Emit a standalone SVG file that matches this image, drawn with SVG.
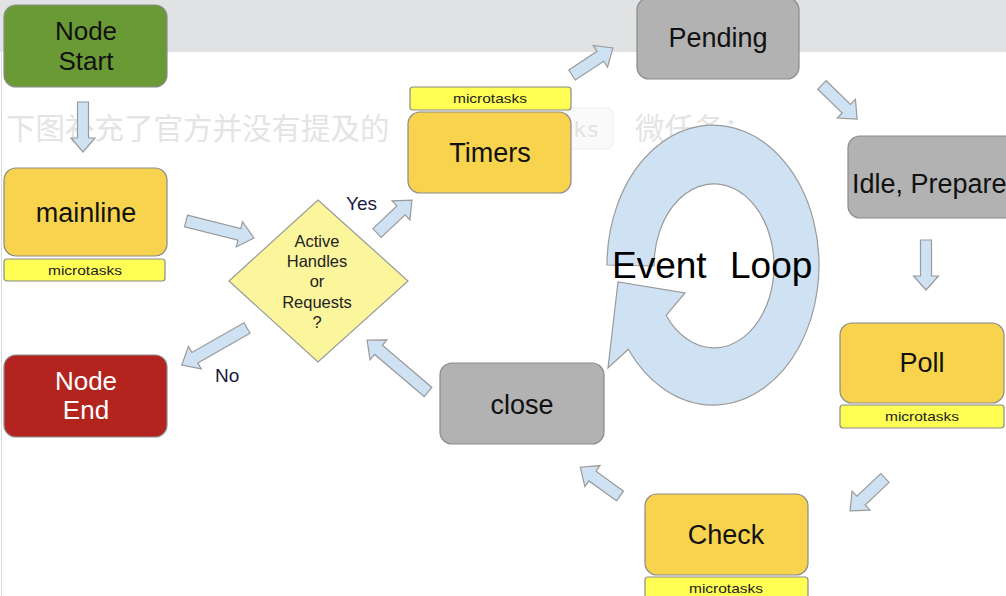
<svg xmlns="http://www.w3.org/2000/svg" width="1006" height="596" viewBox="0 0 1006 596">
<style>
.bg-text{font-family:"Noto Sans CJK SC","Liberation Sans",sans-serif;font-size:29.5px;fill:#e4e4e4}
.lbl{font-family:"Liberation Sans",Arial,sans-serif;font-size:27px;fill:#111;text-anchor:middle}
.nd{font-size:26px}
.mt{font-family:"Liberation Sans",Arial,sans-serif;font-size:13px;fill:#222;text-anchor:middle}
.dt{font-family:"Liberation Sans",Arial,sans-serif;font-size:16.5px;fill:#222;text-anchor:middle}
.yn{font-family:"Liberation Sans",Arial,sans-serif;font-size:19px;fill:#1a1a40}
.box{stroke:#8a8a8a;stroke-width:1.2}
.green{fill:#6a9a36}
.yellow{fill:#f7d34e}
.gray{fill:#b2b2b2}
.red{fill:#b3241e}
.micro{fill:#fefe55;stroke:#8a8a8a;stroke-width:1.2}
.arr{fill:#cfe2f3;stroke:#9a9a9a;stroke-width:1.2;stroke-linejoin:miter}
</style>
<!-- page background -->
<rect x="0" y="0" width="1006" height="596" fill="#ffffff"/>
<rect x="0" y="0" width="1006" height="52" fill="#e1e2e4"/>
<line x1="1.5" y1="52" x2="1.5" y2="596" stroke="#dcdcdc" stroke-width="1"/>
<text class="bg-text" x="6" y="139">下图补充了官方并没有提及的</text>
<rect x="420" y="108" width="193" height="41" rx="6" fill="#fafafa" stroke="#eeeeee"/>
<text x="573" y="137" font-family="'DejaVu Sans Mono','Liberation Mono',monospace" font-size="22" fill="#e2e2e2">ks</text>
<text class="bg-text" x="635" y="139">微任务：</text>

<!-- Event Loop ring -->
<g id="event-loop">
<path class="arr" d="M607,265 A106,140 0 1 1 628.3,349.3 L608,368 L618,282 L685,293 L666.1,315.3 A60,82 0 1 0 654,266 Z"/>
<text font-family="'Liberation Sans',Arial,sans-serif" font-size="37" fill="#000"><tspan x="612" y="278">Event</tspan><tspan x="730" y="278">Loop</tspan></text>
</g>

<!-- connectors -->
<g id="connectors">
<polygon class="arr" transform="translate(83,102) rotate(90)" points="0,-5.5 36,-5.5 36,-12 50,0 36,12 36,5.5 0,5.5"/>
<polygon class="arr" transform="translate(186,221) rotate(14)" points="0,-6 55,-6 55,-13 70,0 55,13 55,6 0,6"/>
<polygon class="arr" transform="translate(377,233) rotate(-43.3)" points="0,-6 33,-6 33,-13 48,0 33,13 33,6 0,6"/>
<polygon class="arr" transform="translate(572,75) rotate(-33.4)" points="0,-6 34,-6 34,-13 49,0 34,13 34,6 0,6"/>
<polygon class="arr" transform="translate(822,85) rotate(44.2)" points="0,-6 34,-6 34,-13 49,0 34,13 34,6 0,6"/>
<polygon class="arr" transform="translate(926,240) rotate(90)" points="0,-5.5 36,-5.5 36,-12.5 50,0 36,12.5 36,5.5 0,5.5"/>
<polygon class="arr" transform="translate(885,478) rotate(136.7)" points="0,-6 33,-6 33,-13 48,0 33,13 33,6 0,6"/>
<polygon class="arr" transform="translate(620,496) rotate(215.9)" points="0,-6 34,-6 34,-13 49,0 34,13 34,6 0,6"/>
<polygon class="arr" transform="translate(428,392) rotate(220.4)" points="0,-6 65,-6 65,-13 80,0 65,13 65,6 0,6"/>
<polygon class="arr" transform="translate(247,328) rotate(150.4)" points="0,-6 60,-6 60,-13 75,0 60,13 60,6 0,6"/>
<text class="yn" x="346" y="210">Yes</text>
<text class="yn" x="215" y="382">No</text>
</g>

<g id="node-start">
<rect class="box green" x="4" y="5" width="163" height="82" rx="12"/>
<text class="lbl nd" x="86" y="40">Node</text>
<text class="lbl nd" x="86" y="70">Start</text>
</g>

<g id="mainline">
<rect class="box yellow" x="4" y="168" width="163" height="88" rx="12"/>
<text class="lbl" x="86" y="222">mainline</text>
<rect class="micro" x="4" y="259" width="161" height="22" rx="3"/>
<text class="mt" x="85" y="275" textLength="74" lengthAdjust="spacingAndGlyphs">microtasks</text>
</g>

<g id="decision">
<polygon points="318,200 408,281 318,362 229,281" fill="#fbf59c" stroke="#999" stroke-width="1.2"/>
<text class="dt" x="317" y="247">Active</text>
<text class="dt" x="317" y="267">Handles</text>
<text class="dt" x="317" y="287">or</text>
<text class="dt" x="317" y="308">Requests</text>
<text class="dt" x="317" y="328">?</text>
</g>

<g id="node-end">
<rect class="box red" x="4" y="355" width="163" height="82" rx="12"/>
<text class="lbl nd" x="86" y="390" style="fill:#fff">Node</text>
<text class="lbl nd" x="86" y="419" style="fill:#fff">End</text>
</g>

<g id="timers">
<rect class="micro" x="410" y="87" width="161" height="23" rx="3"/>
<text class="mt" x="490" y="103" textLength="74" lengthAdjust="spacingAndGlyphs">microtasks</text>
<rect class="box yellow" x="408" y="112" width="163" height="81" rx="12"/>
<text class="lbl" x="490" y="162">Timers</text>
</g>

<g id="pending">
<rect class="box gray" x="637" y="-2" width="162" height="81" rx="12"/>
<text class="lbl" x="718" y="47">Pending</text>
</g>

<g id="idle-prepare">
<rect class="box gray" x="848" y="136" width="170" height="82" rx="12"/>
<text class="lbl" x="852" y="193" style="text-anchor:start">Idle, Prepare</text>
</g>

<g id="poll">
<rect class="box yellow" x="840" y="323" width="164" height="80" rx="12"/>
<text class="lbl" x="922" y="372">Poll</text>
<rect class="micro" x="840" y="405" width="164" height="23" rx="3"/>
<text class="mt" x="922" y="421" textLength="74" lengthAdjust="spacingAndGlyphs">microtasks</text>
</g>

<g id="check">
<rect class="box yellow" x="645" y="494" width="163" height="81" rx="12"/>
<text class="lbl" x="726" y="544">Check</text>
<rect class="micro" x="645" y="577" width="163" height="23" rx="3"/>
<text class="mt" x="726" y="593" textLength="74" lengthAdjust="spacingAndGlyphs">microtasks</text>
</g>

<g id="close">
<rect class="box gray" x="440" y="363" width="164" height="81" rx="12"/>
<text class="lbl" x="522" y="414">close</text>
</g>
</svg>
